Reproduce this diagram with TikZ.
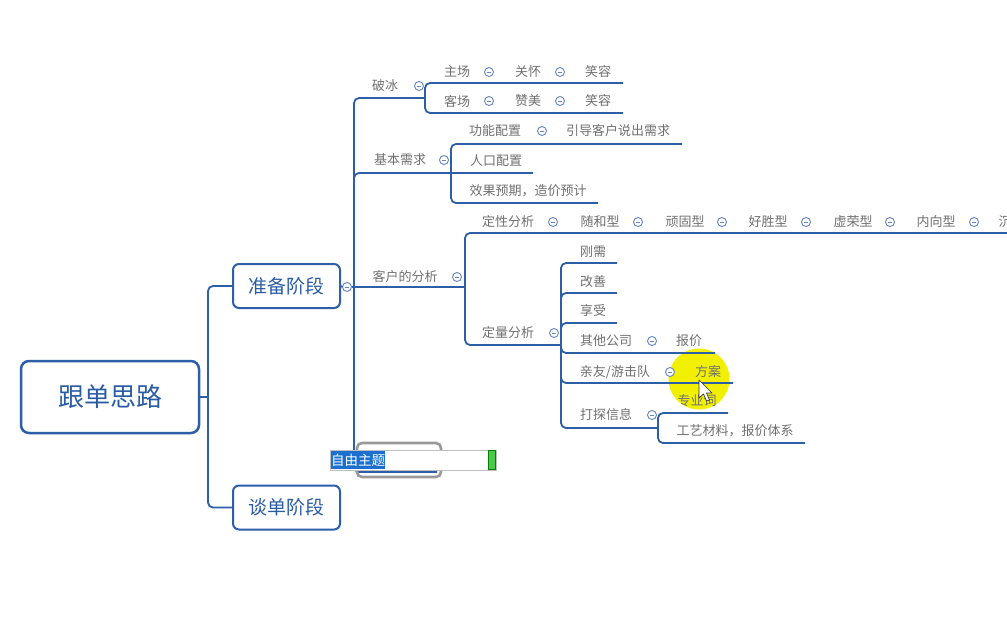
\documentclass[tikz,border=0pt]{standalone}
\usepackage{fontspec}
\newfontfamily\cjk{Noto Sans CJK SC}
\usetikzlibrary{calc}
\definecolor{lineblue}{HTML}{2C5FA8}
\definecolor{txtgrey}{HTML}{707070}
\definecolor{topblue}{HTML}{2A5CA6}
\definecolor{btncol}{HTML}{6585C2}
\definecolor{hlblue}{HTML}{1A6FD0}
\definecolor{cursoryellow}{HTML}{F0F000}
\tikzset{
  conn/.style={draw=lineblue, line width=1.8pt, rounded corners=5pt},
  sub/.style={font=\cjk\fontsize{13}{13}\selectfont, text=txtgrey, inner sep=0pt},
  maintopic/.style={draw=lineblue, line width=2pt, rounded corners=6pt,
    font=\cjk\fontsize{19}{19}\selectfont, text=topblue,
    minimum width=107pt, minimum height=44pt, inner sep=0pt},
  rootbox/.style={draw=lineblue, line width=2.5pt, rounded corners=8pt,
    font=\cjk\fontsize{26}{26}\selectfont, text=topblue,
    minimum width=178pt, minimum height=72pt, inner sep=0pt},
  btn/.style={circle, draw=btncol, line width=0.9pt, minimum size=9pt, inner sep=0pt, fill=white,
    path picture={\draw[btncol, line width=0.9pt]
      ([xshift=-2.3pt]path picture bounding box.center) -- ([xshift=2.3pt]path picture bounding box.center);}}
}
\begin{document}
\begin{tikzpicture}[x=1pt,y=-1pt]
\useasboundingbox (0,0) rectangle (1007,630);
\fill[white] (0,0) rectangle (1007,630);

% cursor highlight (behind the map)
\fill[cursoryellow] (699,379) circle (30.5);

% main nodes
\node[rootbox] (root) at (110,397) {跟单思路};
\node[maintopic] (zb) at (286.5,286) {准备阶段};
\node[maintopic] (td) at (286.5,507.5) {谈单阶段};
\node[btn] (bz) at (347,287) {};

% root connectors
\draw[conn] (root.east) -- (208,397) coordinate (rj);
\draw[conn] (rj) |- (zb.west);
\draw[conn] (rj) |- (td.west);
\draw[conn] (zb.east) -- (bz.west);
\coordinate (tr) at (354,287);
\draw[conn] (bz.east) -- (tr);

% trunk
\draw[conn] (tr) |- (425,98) coordinate (pbj);
\draw[conn] (tr) |- (533,173) coordinate (jbend);
\coordinate (jbj) at (451,173);
\draw[conn] (tr) -- (465,287) coordinate (khj);
\draw[conn] (tr) |- (437,472) coordinate (zyend);

% 破冰 bracket
\draw[conn] (pbj) |- (623,83);
\draw[conn] (pbj) |- (623,113);
% 基本需求 bracket
\draw[conn] (jbj) |- (682,144);
\draw[conn] (jbj) |- (598,203);
% 客户的分析 bracket
\draw[conn] (khj) |- (1012,233);
\draw[conn] (khj) |- (561,345) coordinate (dlj);
% 定量分析 bracket
\draw[conn] (dlj) |- (617,263);
\draw[conn] (dlj) |- (617,293);
\draw[conn] (dlj) |- (617,323);
\draw[conn] (dlj) |- (715,353);
\draw[conn] (dlj) |- (733,383);
\draw[conn] (dlj) |- (658,428) coordinate (dtj);
% 打探信息 bracket
\draw[conn] (dtj) |- (728,413);
\draw[conn] (dtj) |- (805,443);

% 破冰
\node[sub] (pobing) at (385,86) {破冰};
\node[btn] (bpb) at (419,86) {};
\node[sub] (zhuchang) at (457,72) {主场};
\node[btn] (b11) at (489,72) {};
\node[sub] (guanhuai) at (528,72) {关怀};
\node[btn] (b12) at (560,72) {};
\node[sub] (xr1) at (598,72) {笑容};
\node[sub] (kechang) at (457,101) {客场};
\node[btn] (b21) at (489,101) {};
\node[sub] (zanmei) at (528,101) {赞美};
\node[btn] (b22) at (560,101) {};
\node[sub] (xr2) at (598,101) {笑容};

% 基本需求
\node[sub] (jbxq) at (400,160) {基本需求};
\node[btn] (bjb) at (444,160) {};
\node[sub] (gnpz) at (495,131) {功能配置};
\node[btn] (bgn) at (542,131) {};
\node[sub] (ydkh) at (618,131) {引导客户说出需求};
\node[sub] (rkpz) at (496,161) {人口配置};
\node[sub] (xgyq) at (528,191) {效果预期，造价预计};

% 客户的分析
\node[sub] (khfx) at (405,277) {客户的分析};
\node[btn] (bkh) at (457,277) {};
\node[sub] (dxfx) at (508,222) {定性分析};
\node[btn] (bdx) at (553,222) {};
\node[sub] (shx) at (600,222) {随和型};
\node[btn] (bs1) at (638,222) {};
\node[sub] (wgx) at (685,222) {顽固型};
\node[btn] (bs2) at (722,222) {};
\node[sub] (hsx) at (768,222) {好胜型};
\node[btn] (bs3) at (806,222) {};
\node[sub] (xrx) at (853,222) {虚荣型};
\node[btn] (bs4) at (890,222) {};
\node[sub] (nxx) at (936,222) {内向型};
\node[btn] (bs5) at (974,222) {};
\node[sub] (cwx) at (1018,222) {沉稳型};

\node[sub] (dlfx) at (508,333) {定量分析};
\node[btn] (bdl) at (554,333) {};
\node[sub] (gx) at (593,252) {刚需};
\node[sub] (gs) at (593,282) {改善};
\node[sub] (xs) at (593,311) {享受};
\node[sub] (qtgs) at (606,341) {其他公司};
\node[btn] (bqt) at (652,341) {};
\node[sub] (bj) at (689,341) {报价};
\node[sub] (qy) at (615,372) {亲友/游击队};
\node[btn] (bqy) at (670,372) {};
\node[sub] (fa) at (708,372) {方案};
\node[sub] (zyc) at (697,401) {专业词};
\node[sub] (dtxx) at (606,415) {打探信息};
\node[btn] (bdt) at (652,415) {};
\node[sub] (gycl) at (735,431) {工艺材料，报价体系};

% 自由主题 (being edited)
\draw[draw=black!40, line width=2.6pt, rounded corners=5pt] (357,443) rectangle (441,477);
\node[draw=black!25, line width=0.8pt, fill=white, minimum width=166pt, minimum height=20pt, inner sep=0pt] (edit) at (413,460) {};
\fill[hlblue] (331,451) rectangle (385,469);
\node[font=\cjk\fontsize{13.5}{13.5}\selectfont, text=white, inner sep=0pt] (zyzt) at (358,460) {自由主题};
\node[draw=green!50!black, fill=green!70!black!70, minimum width=7pt, minimum height=19pt, inner sep=0pt] (grn) at (492,460) {};

% mouse cursor
\draw[black!80, fill=white, line width=0.7pt, line join=round]
  (699,380) -- (699,398) -- (703.5,394) -- (706.5,401) -- (709.5,400) -- (706.5,393) -- (712,393) -- cycle;
\end{tikzpicture}
\end{document}
